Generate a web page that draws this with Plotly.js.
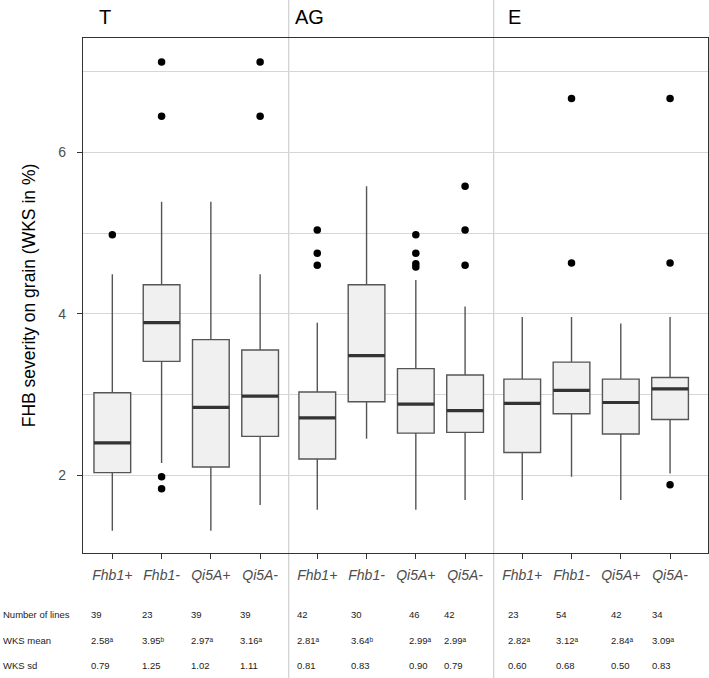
<!DOCTYPE html>
<html>
<head>
<meta charset="utf-8">
<script src="https://cdn.plot.ly/plotly-3.0.1.min.js"></script>
<style>html,body{margin:0;padding:0;background:#fff;}#chart{width:709px;height:678px;}</style>
</head>
<body>
<div id="chart"></div>
<script>
// ---- data ----
const panels = ["T", "AG", "E"];
const genotypes = ["Fhb1+", "Fhb1-", "Qi5A+", "Qi5A-"];

const lowerFence = [1.31, 2.15, 1.31, 1.63,  1.57, 2.45, 1.57, 1.69,  1.69, 1.98, 1.69, 2.02];
const q1Vals     = [2.03, 3.41, 2.10, 2.48,  2.20, 2.91, 2.52, 2.53,  2.28, 2.76, 2.51, 2.69];
const medianVals = [2.40, 3.89, 2.84, 2.98,  2.71, 3.48, 2.88, 2.80,  2.89, 3.05, 2.90, 3.07];
const q3Vals     = [3.02, 4.36, 3.68, 3.55,  3.03, 4.36, 3.32, 3.24,  3.19, 3.40, 3.19, 3.21];
const upperFence = [4.49, 5.39, 5.39, 4.49,  3.89, 5.58, 4.42, 4.09,  3.96, 3.96, 3.88, 3.96];

const outliers = [
  [4.98],
  [7.12, 6.45, 1.98, 1.83],
  [],
  [7.12, 6.45],
  [5.04, 4.75, 4.60],
  [],
  [4.98, 4.75, 4.62, 4.58],
  [5.58, 5.04, 4.60],
  [],
  [6.67, 4.63],
  [],
  [6.67, 4.63, 1.88]
];

const nLines   = ["39", "23", "39", "39",  "42", "30", "46", "42",  "23", "54", "42", "34"];
const wksMean  = ["2.58", "3.95", "2.97", "3.16",  "2.81", "3.64", "2.99", "2.99",  "2.82", "3.12", "2.84", "3.09"];
const meanSig  = ["ᵃ", "ᵇ", "ᵃ", "ᵃ",  "ᵃ", "ᵇ", "ᵃ", "ᵃ",  "ᵃ", "ᵃ", "ᵃ", "ᵃ"];
const wksSd    = ["0.79", "1.25", "1.02", "1.11",  "0.81", "0.83", "0.90", "0.79",  "0.60", "0.68", "0.50", "0.83"];
const rowLabels = ["Number of lines", "WKS mean", "WKS sd"];

// ---- layout constants ----
const PANEL_STEP = 4.16;   // x distance between panels (category units)
const BOX_W = 0.745;
const FONT = "Liberation Sans, Arial, Helvetica, sans-serif";
const colShift = [-23, -22, -22, -22,  -22, -18, -9, -23,  -16, -18, -12, -20];

// positions of every box on the numeric x axis
const xPos = [];
const tickText = [];
panels.forEach((p, pi) => genotypes.forEach((g, gi) => {
  xPos.push(pi * PANEL_STEP + gi);
  tickText.push(g);
}));

const traces = [];

// boxes
traces.push({
  type: "box",
  x: xPos,
  q1: q1Vals, median: medianVals, q3: q3Vals,
  lowerfence: lowerFence, upperfence: upperFence,
  width: BOX_W,
  whiskerwidth: 0,
  fillcolor: "#f0f0f0",
  line: { color: "#555555", width: 1.4 },
  boxpoints: false,
  showlegend: false,
  hoverinfo: "skip"
});

// thick median segments
const mx = [], my = [];
xPos.forEach((x, i) => {
  mx.push(x - BOX_W / 2, x + BOX_W / 2, null);
  my.push(medianVals[i], medianVals[i], null);
});
traces.push({
  type: "scatter", mode: "lines", x: mx, y: my,
  line: { color: "#333333", width: 3.2 },
  showlegend: false, hoverinfo: "skip"
});

// outliers
const ox = [], oy = [];
outliers.forEach((arr, i) => arr.forEach(v => { ox.push(xPos[i]); oy.push(v); }));
traces.push({
  type: "scatter", mode: "markers", x: ox, y: oy,
  marker: { color: "#000000", size: 7.5 },
  showlegend: false, hoverinfo: "skip",
  cliponaxis: false
});

// separators between panels
const sepX = [];
for (let pi = 1; pi < panels.length; pi++) {
  sepX.push(((pi - 1) * PANEL_STEP + genotypes.length - 1 + pi * PANEL_STEP) / 2);
}
const shapes = sepX.map(x => ({
  type: "line", xref: "x", yref: "paper",
  x0: x, x1: x, y0: -0.26, y1: 1.09,
  line: { color: "#cfcfcf", width: 1.2 },
  layer: "below"
}));

const annotations = [];
// panel labels
const panelLeft = [xPos[0] - 0.595, sepX[0], sepX[1]];
const panelShift = [14, 4, 12];
panels.forEach((p, pi) => annotations.push({
  text: p, xref: "x", yref: "paper", x: panelLeft[pi], y: 1, xanchor: "left", yanchor: "middle",
  xshift: panelShift[pi], yshift: 21.5, showarrow: false,
  font: { family: FONT, size: 20, color: "#000000" }
}));

// table
const rowShift = [-61, -87, -112.5];
rowLabels.forEach((lab, ri) => annotations.push({
  text: lab, xref: "paper", yref: "paper", x: 0, y: 0, xanchor: "left", yanchor: "middle",
  xshift: -82.5, yshift: rowShift[ri], showarrow: false,
  font: { family: FONT, size: 9.5, color: "#222222" }
}));
xPos.forEach((x, i) => {
  const cells = [nLines[i], wksMean[i] + meanSig[i], wksSd[i]];
  cells.forEach((c, ri) => annotations.push({
    text: c, xref: "x", yref: "paper", x: x, y: 0, xanchor: "left", yanchor: "middle",
    xshift: colShift[i], yshift: rowShift[ri], showarrow: false,
    font: { family: FONT, size: 9.5, color: "#222222" }
  }));
});

const layout = {
  width: 709, height: 678,
  margin: { l: 83, r: 1, t: 38, b: 125, pad: 0 },
  paper_bgcolor: "#ffffff",
  plot_bgcolor: "rgba(0,0,0,0)",
  showlegend: false,
  font: { family: FONT },
  xaxis: {
    range: [xPos[0] - 0.595, xPos[xPos.length - 1] + 0.77],
    tickmode: "array", tickvals: xPos, ticktext: tickText,
    ticks: "outside", ticklen: 5, tickcolor: "#333333", tickwidth: 1,
    tickfont: { family: FONT, size: 14, color: "#4d4d4d", style: "italic" },
    ticklabelstandoff: 4,
    showgrid: false, zeroline: false,
    showline: true, mirror: true, linecolor: "#333333", linewidth: 1.2
  },
  yaxis: {
    range: [1.034, 7.419],
    tickmode: "array", tickvals: [2, 4, 6],
    ticks: "outside", ticklen: 5, tickcolor: "#333333", tickwidth: 1,
    tickfont: { family: FONT, size: 14, color: "#4d4d4d" },
    ticklabelstandoff: 8,
    showgrid: true, gridcolor: "#d6d6d6", gridwidth: 1,
    minor: { tickvals: [3, 5, 7], showgrid: true, gridcolor: "#d6d6d6", gridwidth: 1, ticks: "" },
    zeroline: false,
    showline: true, mirror: true, linecolor: "#333333", linewidth: 1.2,
    title: { text: "FHB severity on grain (WKS in %)", standoff: 18,
             font: { family: FONT, size: 17.5, color: "#000000" } }
  },
  shapes: shapes,
  annotations: annotations
};

Plotly.newPlot("chart", traces, layout, { staticPlot: true, displayModeBar: false });
</script>
</body>
</html>
